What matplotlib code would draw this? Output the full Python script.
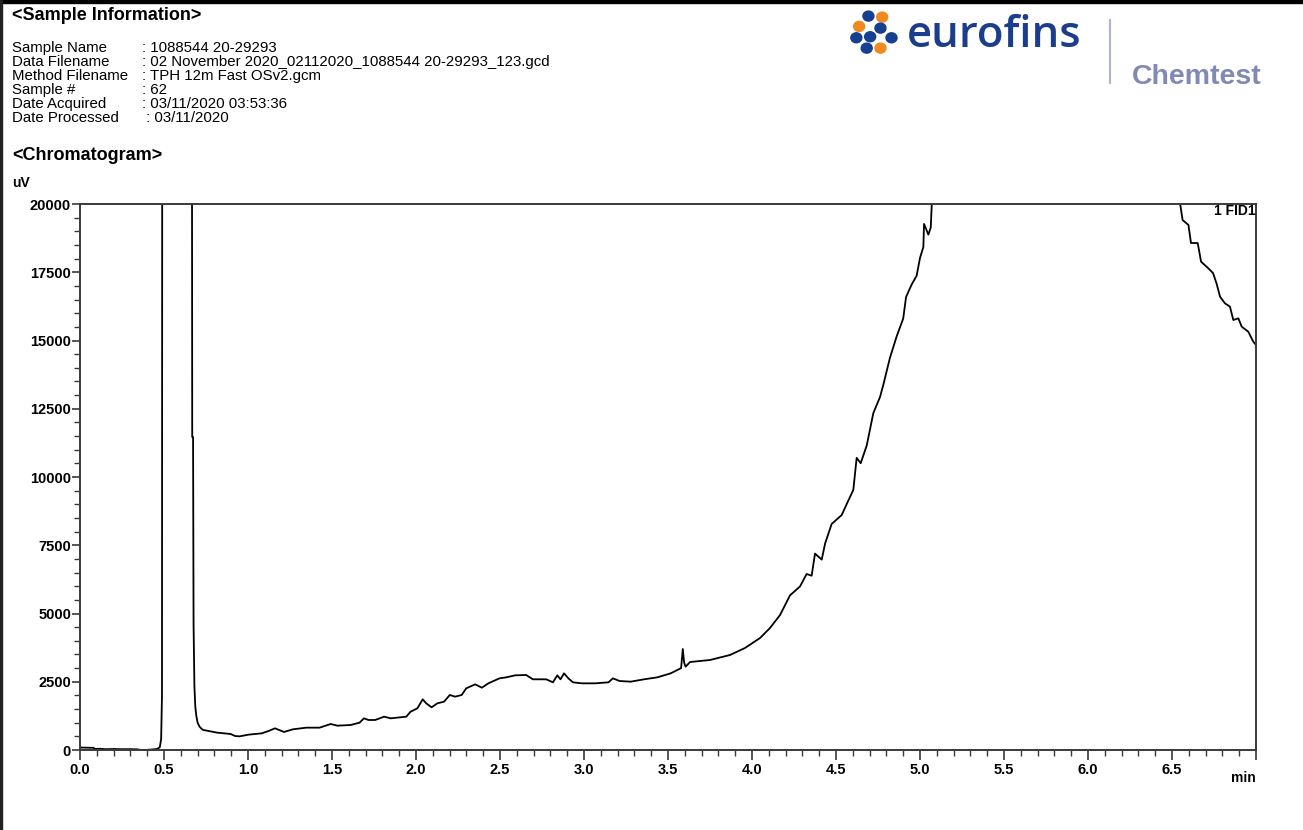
import matplotlib
matplotlib.use("Agg")
import matplotlib.pyplot as plt
from matplotlib.patches import Rectangle, Ellipse
from matplotlib.lines import Line2D
from matplotlib.ticker import MultipleLocator, FixedLocator
import numpy as np

plt.rcParams['font.family'] = ['Liberation Sans', 'DejaVu Sans']

# Sample information block
info_labels = ['Sample Name', 'Data Filename', 'Method Filename', 'Sample #',
               'Date Acquired', 'Date Processed']
info_values = [': 1088544 20-29293',
               ': 02 November 2020_02112020_1088544 20-29293_123.gcd',
               ': TPH 12m Fast OSv2.gcm',
               ': 62',
               ': 03/11/2020 03:53:36',
               ' : 03/11/2020']

# Chromatogram trace (retention time in min, signal in uV)
t_min = [0.00, 0.05, 0.08, 0.09, 0.12, 0.15, 0.20, 0.25, 0.30, 0.34, 0.36, 0.40,
         0.43, 0.46, 0.475, 0.483, 0.488, 0.492, 0.55, 0.62, 0.664, 0.668, 0.673,
         0.676, 0.681, 0.686, 0.692, 0.700, 0.712, 0.73, 0.765, 0.817, 0.897, 0.923,
         0.95, 1.003, 1.082, 1.122, 1.161, 1.19, 1.214, 1.267, 1.347, 1.426, 1.492,
         1.532, 1.611, 1.664, 1.69, 1.717, 1.757, 1.81, 1.849, 1.942, 1.968, 2.008,
         2.04, 2.061, 2.093, 2.127, 2.167, 2.201, 2.233, 2.272, 2.299, 2.352, 2.392,
         2.431, 2.497, 2.537, 2.59, 2.656, 2.696, 2.775, 2.815, 2.841, 2.86, 2.881,
         2.907, 2.934, 2.987, 3.066, 3.146, 3.172, 3.212, 3.278, 3.357, 3.437, 3.516,
         3.556, 3.578, 3.588, 3.596, 3.605, 3.631, 3.75, 3.869, 3.958, 4.048, 4.107,
         4.167, 4.226, 4.286, 4.325, 4.355, 4.375, 4.415, 4.435, 4.474, 4.534, 4.573,
         4.603, 4.623, 4.647, 4.683, 4.722, 4.762, 4.782, 4.821, 4.861, 4.9, 4.917,
         4.95, 4.98, 5.0, 5.02, 5.024, 5.05, 5.064, 5.07, 5.1, 5.3, 5.7, 6.1, 6.4,
         6.548, 6.563, 6.598, 6.613, 6.653, 6.673, 6.714, 6.744, 6.765, 6.786, 6.815,
         6.845, 6.865, 6.895, 6.915, 6.954, 6.984, 7.0]
signal_uv = [90, 85, 80, 40, 45, 30, 35, 30, 30, 25, 5, 5,
             20, 40, 100, 400, 2000, 60000, 300000, 150000, 40000, 11465, 11465,
             4600, 2344, 1611, 1264, 1000, 850, 740, 696, 635, 586, 513,
             500, 562, 610, 696, 794, 720, 660, 757, 818, 818, 952,
             891, 916, 1001, 1160, 1099, 1099, 1221, 1160, 1221, 1404, 1526,
             1856, 1709, 1563, 1709, 1770, 2015, 1954, 2015, 2259, 2405, 2283,
             2442, 2625, 2662, 2735, 2747, 2589, 2589, 2479, 2735, 2589, 2808,
             2625, 2479, 2442, 2442, 2479, 2625, 2527, 2503, 2589, 2662, 2808,
             2930, 3000, 3700, 3200, 3053, 3223, 3297, 3480, 3736, 4103, 4469,
             4945, 5663, 5993, 6447, 6385, 7194, 6975, 7561, 8278, 8608, 9132,
             9524, 10700, 10505, 11157, 12337, 12930, 13385, 14363, 15150, 15802, 16593,
             17047, 17373, 18025, 18425, 19271, 18879, 19139, 19990, 21500, 25500, 28500, 27000, 23000,
             20025, 19414, 19231, 18571, 18571, 17887, 17656, 17473, 17094, 16605, 16362,
             16240, 15751, 15812, 15507, 15323, 14957, 14835]

x_ticks = [0.0, 0.5, 1.0, 1.5, 2.0, 2.5, 3.0, 3.5, 4.0, 4.5, 5.0, 5.5, 6.0, 6.5, 7.0]
x_tick_labels = ['0.0', '0.5', '1.0', '1.5', '2.0', '2.5', '3.0', '3.5', '4.0',
                 '4.5', '5.0', '5.5', '6.0', '6.5', '']
y_ticks = [0, 2500, 5000, 7500, 10000, 12500, 15000, 17500, 20000]

W, H = 1303, 830
fig = plt.figure(figsize=(W / 100, H / 100), dpi=100)
fig.patch.set_facecolor('white')

def fx(px):
    return px / W

def fy(py):
    return 1 - py / H

# page border bits
fig.patches.append(Rectangle((0, fy(3)), 1, 3 / H, transform=fig.transFigure,
                             color='black', zorder=10))
fig.patches.append(Rectangle((0, 0), 2 / W, 1, transform=fig.transFigure,
                             color='#222222', zorder=10))

# header text
fig.text(fx(12), fy(15), '<Sample Information>', fontsize=13, fontweight='bold',
         va='center', ha='left')
for i, (lab, val) in enumerate(zip(info_labels, info_values)):
    y = fy(48 + i * 14)
    fig.text(fx(12), y, lab, fontsize=10.8, va='center', ha='left')
    fig.text(fx(142), y, val, fontsize=10.8, va='center', ha='left')
fig.text(fx(12), fy(156), '<Chromatogram>', fontsize=13, fontweight='bold',
         va='center', ha='left')
fig.text(fx(12), fy(183), 'uV', fontsize=10, fontweight='bold', va='center', ha='left')

# logo
dots = [(65, 35, 'b'), (105, 38, 'o'), (38, 65, 'o'), (100, 70, 'b'), (30, 98, 'b'),
        (70, 95, 'b'), (132, 98, 'b'), (60, 128, 'b'), (100, 128, 'o')]
for zx, zy, c in dots:
    px, py = 846 + zx / 2.9, 4 + zy / 2.9
    fig.patches.append(Ellipse((fx(px), fy(py)), 11 / W, 10 / H, transform=fig.transFigure,
                               color='#173f8f' if c == 'b' else '#f0891f'))
fig.text(fx(907), fy(47), 'eurofins', fontsize=31.5, color='#1b3d8c',
         family=['Open Sans', 'DejaVu Sans'], fontweight='semibold',
         va='baseline', ha='left')
fig.lines.append(Line2D([fx(1110), fx(1110)], [fy(20), fy(83)], transform=fig.transFigure,
                        color='#aeb2cc', lw=1.5))
fig.text(fx(1132), fy(84), 'Chemtest', fontsize=20.5, fontweight='bold', color='#8189b5',
         va='baseline', ha='left')

# chromatogram axes
ax = fig.add_axes([fx(80), fy(750), fx(1256) - fx(80), fy(204) - fy(750)])
ax.plot(t_min, signal_uv, color='black', lw=1.3)
ax.set_xlim(0, 7)
ax.set_ylim(0, 20000)
ax.xaxis.set_major_locator(FixedLocator(x_ticks))
ax.set_xticklabels(x_tick_labels)
ax.xaxis.set_minor_locator(MultipleLocator(0.1))
ax.set_yticks(y_ticks)
ax.yaxis.set_minor_locator(MultipleLocator(500))
for s in ax.spines.values():
    s.set_color('#3a3a3a')
    s.set_linewidth(1.4)
ax.tick_params(axis='x', which='major', direction='out', length=7, width=1.2,
               color='#3a3a3a', labelsize=10.5, pad=2)
ax.tick_params(axis='x', which='minor', direction='out', length=4, width=1.0, color='#3a3a3a')
ax.tick_params(axis='y', which='major', direction='out', length=6, width=1.2,
               color='#3a3a3a', labelsize=10.5, pad=0.5)
ax.tick_params(axis='y', which='minor', direction='out', length=4, width=1.0, color='#3a3a3a')
for lab in ax.get_xticklabels() + ax.get_yticklabels():
    lab.set_fontweight('bold')
ax.text(1.0, 1.0, '1 FID1', transform=ax.transAxes, ha='right', va='top',
        fontsize=10, fontweight='bold')
fig.text(fx(1256), fy(778), 'min', fontsize=10, fontweight='bold', ha='right', va='center')

fig.savefig('out.png', dpi=100)
